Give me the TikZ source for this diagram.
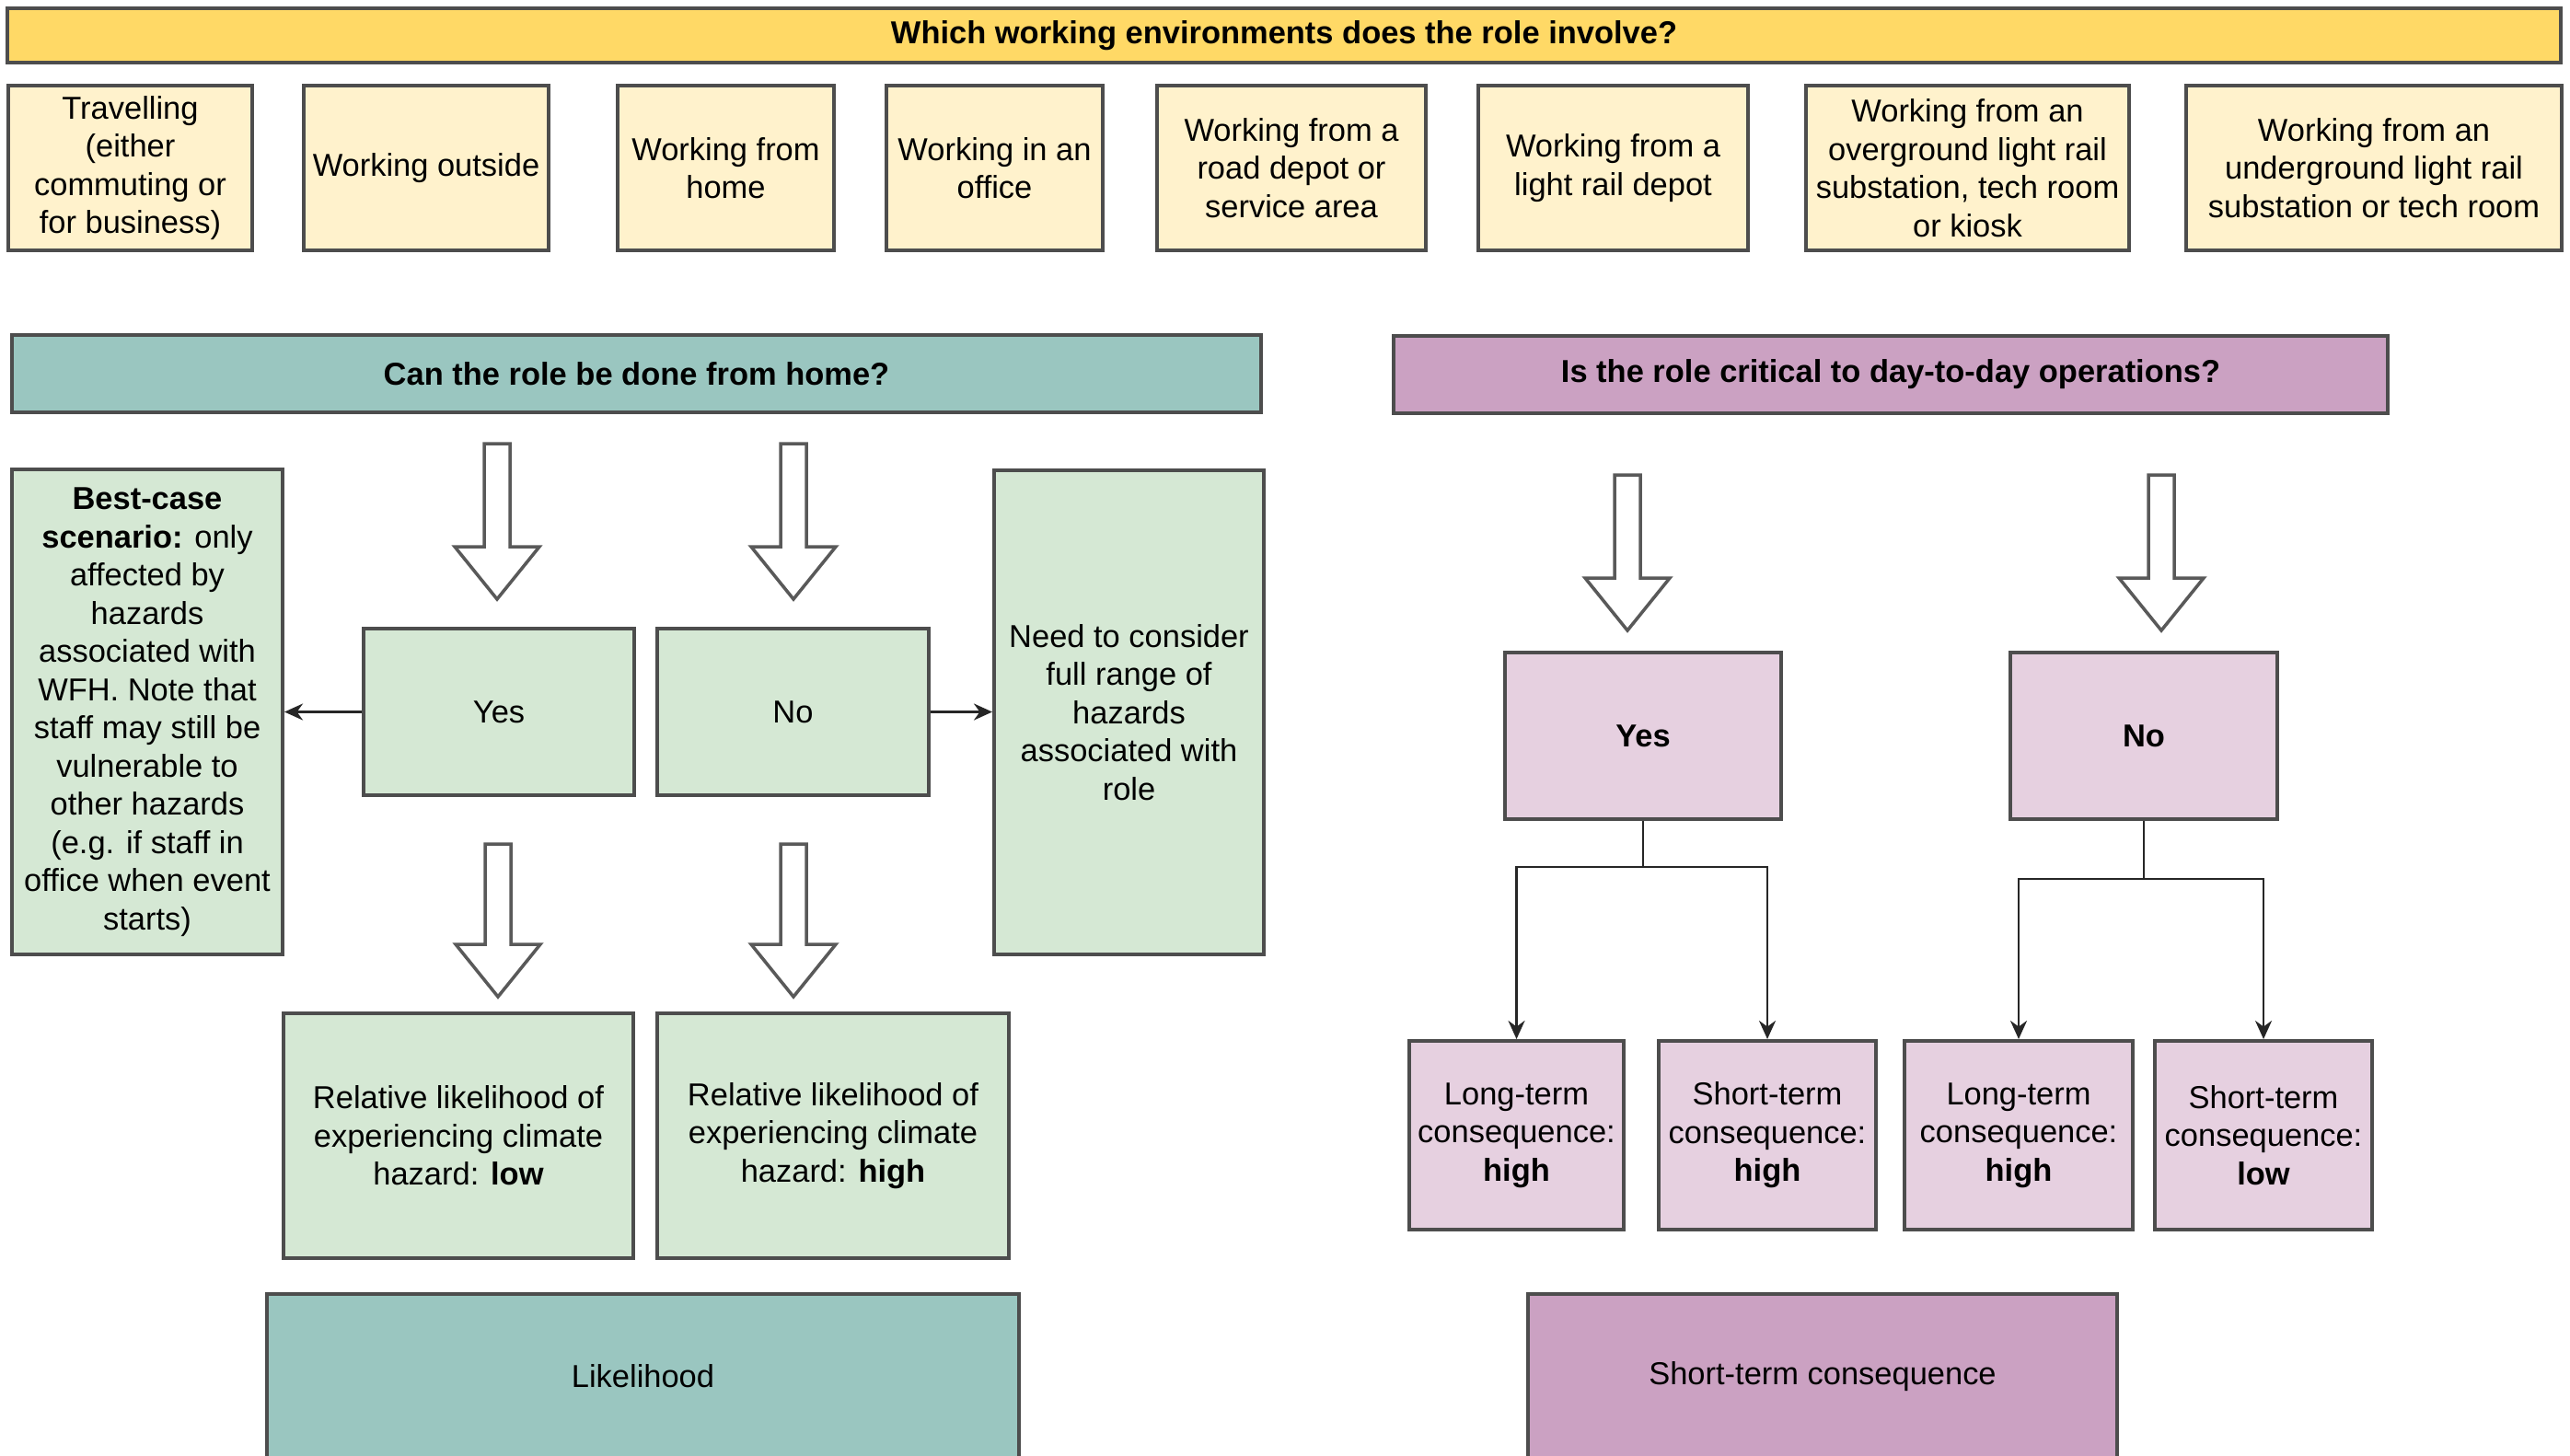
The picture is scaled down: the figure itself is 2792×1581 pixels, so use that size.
\documentclass[tikz,border=0pt]{standalone}
\usepackage{fontspec}
\setmainfont{Liberation Sans}
\usetikzlibrary{arrows.meta}

\definecolor{barYellow}{HTML}{FFD966}
\definecolor{envCream}{HTML}{FFF2CC}
\definecolor{headTeal}{HTML}{9AC6C0}
\definecolor{boxGreen}{HTML}{D5E8D4}
\definecolor{headPink}{HTML}{CBA1C2}
\definecolor{boxPink}{HTML}{E6D0E0}
\definecolor{edge}{HTML}{4D4D4D}

% hollow block arrow pointing down: x, top y, tip y
\newcommand{\downblock}[3]{%
  \draw[blockarrow] ({#1-14},#2) -- ({#1+14},#2) -- ({#1+14},{#3-57})
    -- ({#1+46},{#3-57}) -- (#1,#3) -- ({#1-46},{#3-57}) -- ({#1-14},{#3-57}) -- cycle;}

\begin{document}
\begin{tikzpicture}
[
    x=0.01cm, y=-0.01cm,
    every node/.style={font=\fontsize{9.8}{11.8}\selectfont, align=center, inner sep=0pt},
    box/.style={draw=edge, line width=1.1pt, rectangle},
    topbar/.style={box, fill=barYellow},
    envbox/.style={box, fill=envCream, minimum height=17.9mm},
    headteal/.style={box, fill=headTeal},
    headpink/.style={box, fill=headPink},
    greenbox/.style={box, fill=boxGreen},
    pinkbox/.style={box, fill=boxPink},
    blockarrow/.style={draw=black!65, fill=white, line width=1pt, line join=miter},
    line/.style={draw=black!85, line width=0.8pt},
    link/.style={line, -{Stealth[length=2mm, width=1.8mm]}},
]
\useasboundingbox (0,0) rectangle (2792,1581);
\clip (0,0) rectangle (2792,1581);

% working environments
\node[topbar, minimum width=277.2mm, minimum height=5.9mm] (envq) at (1395,38.5)
    {\textbf{Which working environments does the role involve?}};
\node[envbox, minimum width=26.5mm] (travel) at (141.5,182.5) {Travelling\\(either\\commuting or\\for business)};
\node[envbox, minimum width=26.6mm] (outside) at (463,182.5) {Working outside};
\node[envbox, minimum width=23.5mm] (home) at (788.5,182.5) {Working from\\home};
\node[envbox, minimum width=23.5mm] (office) at (1080.5,182.5) {Working in an\\office};
\node[envbox, minimum width=29.2mm] (roaddepot) at (1403,182.5) {Working from a\\road depot or\\service area};
\node[envbox, minimum width=29.3mm] (raildepot) at (1752.5,182.5) {Working from a\\light rail depot};
\node[envbox, minimum width=35.1mm] (overground) at (2137.5,182.5)
    {Working from an\\overground light rail\\substation, tech room\\or kiosk};
\node[envbox, minimum width=40.8mm] (underground) at (2579,182.5)
    {Working from an\\underground light rail\\substation or tech room};

% likelihood side
\node[headteal, minimum width=135.7mm, minimum height=8.4mm] (homeq) at (691.5,406)
    {\textbf{Can the role be done from home?}};
\node[greenbox, minimum width=29.4mm, minimum height=52.7mm] (bestcase) at (160,773.5)
    {\textbf{Best-case}\\\textbf{scenario:} only\\affected by\\hazards\\associated with\\WFH. Note that\\staff may still be\\vulnerable to\\other hazards\\(e.g. if staff in\\office when event\\starts)};
\node[greenbox, minimum width=29.4mm, minimum height=18.1mm] (homeyes) at (542,773.5) {Yes};
\node[greenbox, minimum width=29.5mm, minimum height=18.1mm] (homeno) at (861.5,773.5) {No};
\node[greenbox, minimum width=29.3mm, minimum height=52.6mm] (fullrange) at (1226.5,774)
    {Need to consider\\full range of\\hazards\\associated with\\role};
\node[greenbox, minimum width=38mm, minimum height=26.6mm] (likelow) at (498,1234)
    {Relative likelihood of\\experiencing climate\\hazard: \textbf{low}};
\node[greenbox, minimum width=38.2mm, minimum height=26.6mm] (likehigh) at (905,1234)
    {Relative likelihood of\\experiencing climate\\hazard: \textbf{high}};
\node[headteal, minimum width=81.7mm, minimum height=17.9mm] (likelihood) at (698.5,1495.5) {Likelihood};

\downblock{540}{482}{651}
\downblock{862}{482}{651}
\downblock{541}{917}{1083}
\downblock{862}{917}{1083}

\draw[link] (homeyes.west) -- (bestcase.east);
\draw[link] (homeno.east) -- (homeno.east -| fullrange.west);

% consequence side
\node[headpink, minimum width=108mm, minimum height=8.4mm] (critq) at (2054,407)
    {\textbf{Is the role critical to day-to-day operations?}};
\node[pinkbox, minimum width=30mm, minimum height=18.1mm] (crityes) at (1785,799.5) {\textbf{Yes}};
\node[pinkbox, minimum width=29mm, minimum height=18.1mm] (critno) at (2329,799.5) {\textbf{No}};
\node[pinkbox, minimum width=23.3mm, minimum height=20.5mm] (longyes) at (1647.5,1233.5)
    {Long-term\\consequence:\\\textbf{high}};
\node[pinkbox, minimum width=23.6mm, minimum height=20.5mm] (shortyes) at (1920,1233.5)
    {Short-term\\consequence:\\\textbf{high}};
\node[pinkbox, minimum width=24.8mm, minimum height=20.5mm] (longno) at (2193,1233.5)
    {Long-term\\consequence:\\\textbf{high}};
\node[pinkbox, minimum width=23.6mm, minimum height=20.5mm] (shortno) at (2459,1233.5)
    {Short-term\\consequence:\\\textbf{low}};
\node[headpink, minimum width=64mm, minimum height=17.9mm] (shortterm) at (1980,1495.5) {Short-term consequence};

\downblock{1768}{516}{685}
\downblock{2348}{516}{685}

\coordinate (yesfork) at (1785,942);
\coordinate (nofork) at (2329,955);
\draw[line] (crityes.south) -- (yesfork);
\draw[link] (yesfork) -| (longyes.north);
\draw[link] (yesfork) -| (shortyes.north);
\draw[line] (critno.south) -- (nofork);
\draw[link] (nofork) -| (longno.north);
\draw[link] (nofork) -| (shortno.north);
\end{tikzpicture}
\end{document}
